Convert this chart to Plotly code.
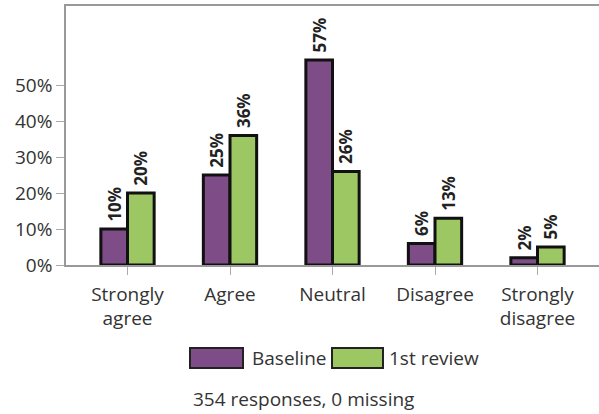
import plotly.graph_objects as go

categories = ["Strongly<br>agree", "Agree", "Neutral", "Disagree", "Strongly<br>disagree"]
series_names = ["Baseline", "1st review"]
baseline = [10, 25, 57, 6, 2]
first_review = [20, 36, 26, 13, 5]
y_ticks = [0, 10, 20, 30, 40, 50]
y_tick_labels = ["0%", "10%", "20%", "30%", "40%", "50%"]
footnote = "354 responses, 0 missing"

colors = ["#7E4C87", "#9DC763"]
FONT = "Open Sans"
FS = 19

fig = go.Figure()
for name, vals, col in zip(series_names, [baseline, first_review], colors):
    fig.add_trace(go.Bar(
        x=categories, y=vals, name=name,
        marker=dict(color=col, line=dict(color="#111111", width=3)),
        text=[f"\u00a0{v}%" for v in vals],
        textposition="outside", textangle=-90, constraintext="none",
        textfont=dict(family=FONT, size=17, color="#222222", weight="bold"),
        cliponaxis=False, showlegend=False, hoverinfo="skip",
    ))

fig.update_layout(
    width=599, height=414,
    margin=dict(l=66, r=0, t=6, b=149, autoexpand=False),
    barmode="group", bargap=0.48, bargroupgap=0,
    plot_bgcolor="white", paper_bgcolor="white",
    font=dict(family=FONT, size=FS, color="#333333"),
    xaxis=dict(
        range=[-0.6, 4.6], showline=True, linecolor="#999999", linewidth=1.5,
        mirror=True, ticks="outside", ticklen=8, tickcolor="#aaaaaa",
        ticklabelstandoff=3,
        tickfont=dict(size=FS, color="#333333"), showgrid=False, automargin=False,
    ),
    yaxis=dict(
        range=[0, 72], tickvals=y_ticks, ticktext=y_tick_labels,
        showline=True, linecolor="#999999", linewidth=1.5,
        ticks="outside", ticklen=8, tickcolor="#aaaaaa",
        tickfont=dict(size=FS, color="#333333"), showgrid=False, zeroline=False,
        automargin=False,
    ),
)

# legend drawn manually with wide swatches
def px2x(px):
    return (px - 66) / 533

def py2y(py):
    return (265 - py) / 259

swatches = [(190, 243, 250), (332, 383, 387)]
for (x0, x1, tx), name, col in zip(swatches, series_names, colors):
    fig.add_shape(type="rect", xref="paper", yref="paper",
                  x0=px2x(x0), x1=px2x(x1), y0=py2y(368), y1=py2y(348),
                  fillcolor=col, line=dict(color="#222222", width=2))
    fig.add_annotation(xref="paper", yref="paper", x=px2x(tx), y=py2y(358),
                       text=name, showarrow=False, xanchor="left", yanchor="middle",
                       font=dict(family=FONT, size=FS, color="#333333"))

fig.add_annotation(xref="paper", yref="paper", x=px2x(303), y=py2y(399),
                   text=footnote, showarrow=False, xanchor="center", yanchor="middle",
                   font=dict(family=FONT, size=FS, color="#333333"))

fig.write_html("out.html", config={"displayModeBar": False},
               post_script="document.body.style.margin='0';document.body.style.overflow='hidden';")
